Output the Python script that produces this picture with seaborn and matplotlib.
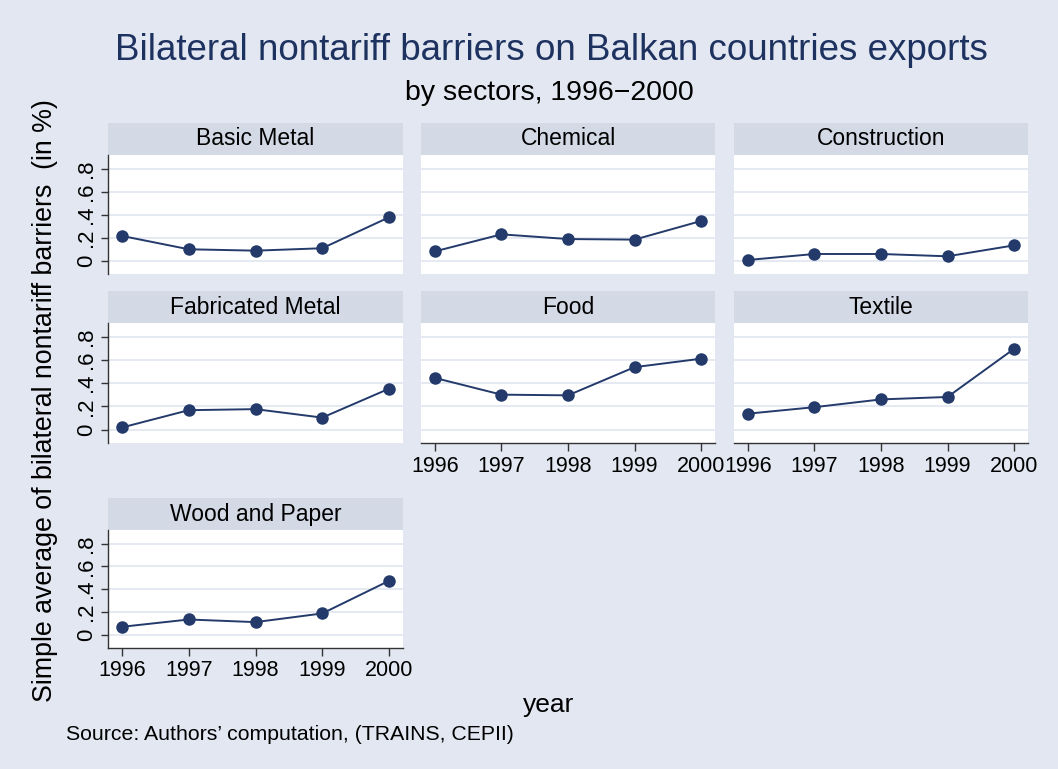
import numpy as np
import pandas as pd
import seaborn as sns
import matplotlib.pyplot as plt
from matplotlib.patches import Rectangle

# ---- data ----
years = [1996, 1997, 1998, 1999, 2000]
sectors = ["Basic Metal", "Chemical", "Construction",
           "Fabricated Metal", "Food", "Textile", "Wood and Paper"]
basic_metal = [0.215, 0.099, 0.087, 0.108, 0.377]
chemical = [0.081, 0.229, 0.188, 0.183, 0.345]
construction = [0.006, 0.058, 0.058, 0.038, 0.133]
fabricated_metal = [0.018, 0.167, 0.176, 0.103, 0.352]
food = [0.445, 0.301, 0.295, 0.538, 0.611]
textile = [0.137, 0.193, 0.260, 0.281, 0.696]
wood_paper = [0.070, 0.134, 0.111, 0.187, 0.473]
yticks = [0, 0.2, 0.4, 0.6, 0.8]
ytick_labels = ["0", ".2", ".4", ".6", ".8"]

series = [basic_metal, chemical, construction, fabricated_metal, food, textile, wood_paper]
df = pd.DataFrame({
    "sector": np.repeat(sectors, len(years)),
    "year": years * len(sectors),
    "ntb": np.concatenate(series),
})

BG = "#E2E7F1"
STRIP = "#D3D9E5"
NAVY = "#233A6B"
GRID = "#E2E7F1"

sns.set_theme(style="white")
plt.rcParams["font.family"] = ["Liberation Sans", "DejaVu Sans"]

W, H = 1058, 769
fig = plt.figure(figsize=(W / 100, H / 100), dpi=100, facecolor=BG)

cols_px = [(108, 403), (421, 715), (734, 1028)]
rows_px = [(155, 274), (323, 443), (530, 648)]
strip_h = 32

for i, sec in enumerate(sectors):
    r, c = divmod(i, 3)
    x0, x1 = cols_px[c]
    y0, y1 = rows_px[r]
    ax = fig.add_axes([x0 / W, 1 - y1 / H, (x1 - x0) / W, (y1 - y0) / H])
    ax.set_facecolor("white")
    sub = df[df["sector"] == sec]
    sns.lineplot(data=sub, x="year", y="ntb", ax=ax, color=NAVY, lw=1.4,
                 marker="o", markersize=9, markeredgewidth=0, zorder=3)
    ax.set_xlim(1995.79, 2000.21)
    ax.set_ylim(-0.116, 0.919)
    ax.set_yticks(yticks)
    for yv in yticks:
        ax.axhline(yv, color=GRID, lw=1.3, zorder=1)
    ax.set_xlabel("")
    ax.set_ylabel("")
    for s in ax.spines.values():
        s.set_visible(False)

    show_y = c == 0
    show_x = (i + 3) >= len(sectors)
    if show_y:
        ax.spines["left"].set_visible(True)
        ax.spines["left"].set_color("#333333")
        ax.spines["left"].set_linewidth(1.0)
        ax.set_yticklabels(ytick_labels, rotation=90, va="center", fontsize=16)
        ax.tick_params(axis="y", length=5, width=1, color="#333333", pad=3,
                       left=True, labelcolor="black")
    else:
        ax.set_yticklabels([])
        ax.tick_params(axis="y", length=0, left=False)
    if show_x:
        ax.spines["bottom"].set_visible(True)
        ax.spines["bottom"].set_color("#333333")
        ax.spines["bottom"].set_linewidth(1.0)
        ax.set_xticks(years)
        ax.set_xticklabels([str(y) for y in years], fontsize=15.5)
        ax.tick_params(axis="x", length=6, width=1, color="#333333", pad=3,
                       bottom=True, labelcolor="black")
    else:
        ax.set_xticks(years)
        ax.set_xticklabels([])
        ax.tick_params(axis="x", length=0, bottom=False)

    # strip header
    sh = strip_h / (y1 - y0)
    ax.add_patch(Rectangle((0, 1), 1, sh, transform=ax.transAxes,
                           facecolor=STRIP, edgecolor="none", clip_on=False))
    ax.text(0.5, 1 + sh / 2, sec, transform=ax.transAxes, ha="center",
            va="center", fontsize=16.5, color="black")

fig.text(551 / W, 1 - 50 / H, "Bilateral nontariff barriers on Balkan countries exports",
         ha="center", va="center", fontsize=26.5, color="#1E3260")
fig.text(549 / W, 1 - 93 / H, "by sectors, 1996\u22122000",
         ha="center", va="center", fontsize=20.5, color="black")
fig.text(45 / W, 1 - 401 / H, "Simple average of bilateral nontariff barriers  (in %)",
         rotation=90, ha="center", va="center", fontsize=19.3, color="black")
fig.text(549 / W, 1 - 705 / H, "year", ha="center", va="center", fontsize=19, color="black")
fig.text(66 / W, 1 - 734 / H, "Source: Authors\u2019 computation, (TRAINS, CEPII)",
         ha="left", va="center", fontsize=15.3, color="black")

plt.savefig("out.png", dpi=100, facecolor=BG)
plt.close()
